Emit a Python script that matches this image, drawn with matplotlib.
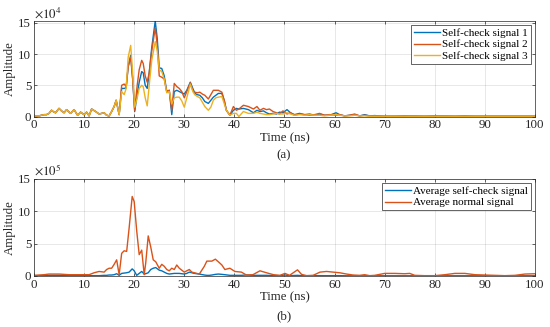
import matplotlib
matplotlib.use("Agg")
import matplotlib.pyplot as plt
import numpy as np

# MATLAB default line colours
C_BLUE = (0.0, 0.447, 0.741)
C_ORANGE = (0.850, 0.325, 0.098)
C_YELLOW = (0.929, 0.694, 0.125)

# %% Data, panel (a): self-check signals, amplitude in units of 1e4
t_top = [0, 0.5, 1, 1.5, 2, 2.5, 3, 3.5, 4, 4.3,
         5, 5.5, 6, 6.5, 7.3, 8, 8.7, 9.3, 10, 10.5,
         11, 11.5, 12.3, 13, 14, 14.5, 15, 15.5, 16, 16.4,
         17, 17.5, 18, 18.4, 18.8, 19.3, 19.7, 20.1, 20.6, 21,
         21.5, 21.8, 22.2, 22.6, 23, 23.5, 24.2, 24.6, 25, 25.5,
         26, 26.5, 27, 27.5, 28, 28.5, 29, 29.5, 30, 30.5,
         31.2, 31.7, 32.1, 32.6, 33.1, 33.6, 34.1, 34.8, 35.3, 35.8,
         36.3, 36.8, 37.5, 38, 38.4, 39.1, 39.8, 40.4, 40.9, 41.8,
         42.8, 43.8, 44.5, 45.1, 45.8, 46.4, 47, 47.7, 48.4, 49,
         49.7, 50.5, 51.2, 52, 53, 54, 55, 56, 57, 58,
         59, 60.3, 61, 62, 63, 64, 65, 66, 67, 68,
         70, 72, 74, 76, 78, 80, 82, 84, 86, 88,
         90, 92, 94, 96, 98, 100]

sig1 = [0.1, 0.1, 0.1, 0.2, 0.3, 0.3, 0.5, 1.0, 0.7, 0.6,
        1.3, 0.9, 0.6, 1.1, 0.5, 1.1, 0.2, 0.7, 0.3, 0.7,
        0.1, 1.2, 0.8, 0.4, 0.6, 0.2, 0.1, 0.8, 1.6, 2.6,
        0.3, 4.5, 4.5, 4.6, 8.0, 9.8, 6.0, 0.8, 3.5, 5.5,
        7.2, 7.0, 5.0, 4.5, 7.0, 11.0, 15.3, 12.5, 7.8, 7.7,
        6.5, 4.0, 4.2, 0.3, 4.0, 4.2, 4.0, 3.8, 3.6, 4.2,
        5.5, 4.5, 3.7, 3.5, 3.4, 3.0, 2.4, 2.1, 2.6, 3.1,
        3.4, 3.7, 3.7, 2.5, 1.0, 0.2, 1.0, 1.3, 1.2, 1.3,
        1.1, 0.6, 1.0, 0.8, 0.9, 0.6, 0.4, 0.5, 0.4, 0.7,
        0.6, 1.1, 0.6, 0.3, 0.5, 0.3, 0.4, 0.2, 0.4, 0.2,
        0.2, 0.6, 0.3, 0.1, 0.2, 0.3, 0.1, 0.3, 0.1, 0.15,
        0.05, 0.05, 0.1, 0.05, 0.05, 0.1, 0.05, 0.05, 0.1, 0.05,
        0.05, 0.05, 0.05, 0.05, 0.05, 0.05]

sig2 = [0.1, 0.1, 0.1, 0.2, 0.3, 0.3, 0.5, 1.0, 0.7, 0.6,
        1.3, 0.9, 0.6, 1.1, 0.5, 1.1, 0.2, 0.7, 0.3, 0.7,
        0.1, 1.2, 0.8, 0.4, 0.6, 0.2, 0.1, 0.8, 1.6, 2.6,
        0.3, 5.0, 5.2, 4.8, 8.0, 9.5, 6.0, 1.0, 5.0, 7.5,
        9.0, 8.5, 6.5, 5.5, 7.0, 10.5, 14.2, 11.5, 6.5, 6.3,
        6.0, 4.0, 4.2, 1.0, 5.3, 4.8, 4.5, 4.0, 3.0, 4.0,
        5.4, 4.2, 3.9, 3.8, 3.9, 3.6, 3.4, 2.8, 3.5, 4.2,
        4.2, 4.2, 3.9, 2.5, 1.0, 0.2, 1.6, 1.0, 1.2, 1.8,
        1.6, 1.2, 1.6, 1.0, 1.3, 1.1, 1.2, 0.8, 0.6, 0.4,
        0.9, 0.4, 0.6, 0.2, 0.4, 0.3, 0.2, 0.3, 0.5, 0.2,
        0.3, 0.2, 0.3, 0.1, 0.2, 0.4, 0.1, 0.2, 0.1, 0.1,
        0.05, 0.05, 0.05, 0.1, 0.05, 0.05, 0.1, 0.05, 0.05, 0.05,
        0.05, 0.05, 0.05, 0.05, 0.05, 0.05]

sig3 = [0.1, 0.1, 0.1, 0.2, 0.3, 0.3, 0.5, 1.0, 0.7, 0.6,
        1.3, 0.9, 0.6, 1.1, 0.5, 1.1, 0.2, 0.7, 0.3, 0.7,
        0.1, 1.2, 0.8, 0.4, 0.6, 0.2, 0.1, 0.8, 1.6, 2.6,
        0.3, 4.0, 3.5, 4.5, 9.5, 11.4, 7.0, 1.5, 3.0, 4.5,
        5.0, 4.8, 3.0, 1.7, 5.0, 9.0, 12.0, 10.5, 7.5, 7.2,
        6.0, 3.8, 4.0, 2.0, 3.0, 3.1, 3.1, 2.5, 1.5, 3.0,
        5.2, 4.0, 3.5, 3.2, 3.0, 2.3, 1.6, 1.0, 1.5, 2.6,
        3.0, 3.1, 3.2, 2.0, 1.0, 0.2, 0.5, 0.5, 0.0, 0.8,
        0.5, 0.5, 0.7, 0.5, 0.4, 0.3, 0.3, 0.4, 0.5, 0.4,
        0.4, 0.6, 0.4, 0.2, 0.3, 0.2, 0.3, 0.2, 0.2, 0.1,
        0.2, 0.3, 0.2, 0.1, 0.1, 0.2, 0.1, 0.1, 0.05, 0.05,
        0.05, 0.05, 0.05, 0.05, 0.05, 0.05, 0.05, 0.05, 0.05, 0.05,
        0.05, 0.05, 0.05, 0.05, 0.05, 0.05]

# %% Data, panel (b): averages, amplitude in units of 1e5
t_bot = [0, 2, 3, 5, 7, 9, 10, 11, 12, 13,
         14, 14.5, 15, 15.5, 16, 16.5, 17, 17.5, 18, 18.5,
         19, 19.6, 20, 20.5, 21, 21.5, 22, 22.3, 22.8, 23.3,
         23.8, 24.3, 25, 25.5, 26, 26.5, 27, 27.5, 28, 28.5,
         29, 30, 30.5, 31, 31.5, 32, 33, 34, 34.5, 35,
         35.5, 36.2, 36.8, 37.5, 38.1, 39.1, 40.1, 41.4, 42.4, 43.7,
         45.1, 46.4, 47.8, 49.1, 50.1, 51, 52.6, 53.4, 54.4, 55.7,
         57.1, 58.4, 59.7, 61, 62.4, 63.7, 65, 66, 67, 68,
         70, 72, 74, 75, 76, 78, 80, 82, 84, 86,
         88, 90, 92, 94, 96, 98, 100]

avg_self = [0.05, 0.05, 0.1, 0.1, 0.1, 0.05, 0.05, 0.05, 0.05, 0.05,
            0.1, 0.1, 0.15, 0.15, 0.2, 0.35, 0.1, 0.4, 0.45, 0.5,
            0.6, 1.1, 0.8, 0.1, 0.4, 0.7, 0.3, 0.35, 0.5, 1.0,
            1.2, 1.3, 0.9, 0.8, 0.6, 0.4, 0.3, 0.35, 0.4, 0.4,
            0.4, 0.3, 0.4, 0.6, 0.5, 0.4, 0.3, 0.15, 0.1, 0.1,
            0.15, 0.25, 0.3, 0.25, 0.2, 0.1, 0.1, 0.1, 0.15, 0.1,
            0.1, 0.1, 0.05, 0.05, 0.15, 0.05, 0.1, 0.05, 0.05, 0.05,
            0.05, 0.05, 0.05, 0.05, 0.03, 0.03, 0.03, 0.03, 0.03, 0.03,
            0.03, 0.03, 0.03, 0.03, 0.03, 0.03, 0.03, 0.03, 0.03, 0.03,
            0.03, 0.03, 0.03, 0.03, 0.03, 0.03, 0.03]

avg_normal = [0.1, 0.2, 0.3, 0.3, 0.2, 0.2, 0.2, 0.2, 0.5, 0.7,
              0.6, 1.0, 1.2, 1.2, 1.8, 2.5, 0.2, 3.5, 3.9, 3.8,
              7.5, 12.3, 11.5, 7.0, 3.3, 4.0, 0.2, 2.0, 6.2, 4.5,
              2.5, 2.2, 1.2, 1.8, 1.5, 1.0, 0.8, 1.2, 1.0, 1.7,
              1.2, 0.6, 0.8, 1.0, 0.6, 0.5, 0.3, 1.5, 2.3, 2.3,
              2.3, 2.6, 2.2, 1.7, 1.0, 1.2, 0.7, 0.6, 0.15, 0.2,
              0.8, 0.5, 0.2, 0.1, 0.4, 0.1, 0.95, 0.25, 0.05, 0.1,
              0.6, 0.7, 0.6, 0.5, 0.3, 0.15, 0.1, 0.2, 0.05, 0.1,
              0.4, 0.4, 0.35, 0.4, 0.1, 0.05, 0.05, 0.2, 0.4, 0.4,
              0.2, 0.15, 0.1, 0.05, 0.1, 0.3, 0.35]

labels_top = ['Self-check signal 1', 'Self-check signal 2', 'Self-check signal 3']
labels_bot = ['Average self-check signal', 'Average normal signal']
x_ticks = [0, 10, 20, 30, 40, 50, 60, 70, 80, 90, 100]
y_ticks = [0, 5, 10, 15]

# %% Style
plt.rcParams['font.family'] = ['Liberation Serif', 'DejaVu Serif']
plt.rcParams['mathtext.fontset'] = 'stix'
FS = 9.3   # axis text
FS_LEG = 8  # legend text


def style_axes(ax, ymax):
    ax.set_xlim(0, 100)
    ax.set_ylim(0, ymax)
    ax.set_xticks(x_ticks)
    ax.set_yticks(y_ticks)
    ax.grid(True, color='0.15', alpha=0.15, linewidth=0.5)
    ax.set_axisbelow(True)
    ax.tick_params(direction='in', top=True, right=True, length=2.5,
                   width=0.5, colors='0.15', labelsize=FS, pad=2)
    for s in ax.spines.values():
        s.set_color('0.15')
        s.set_linewidth(0.5)
    ax.set_xlabel('Time (ns)', fontsize=FS, labelpad=0.5, color='0.15')
    ax.set_ylabel('Amplitude', fontsize=FS, labelpad=2, color='0.15')


fig = plt.figure(figsize=(5.5, 3.27), dpi=100)
ax1 = fig.add_axes([0.0618, 0.6437, 0.9109, 0.2920])
ax2 = fig.add_axes([0.0618, 0.156, 0.9109, 0.2966])

# panel (a)
for y, c, lab in zip([sig1, sig2, sig3], [C_BLUE, C_ORANGE, C_YELLOW], labels_top):
    ax1.plot(t_top, y, color=c, linewidth=1.0, label=lab)
style_axes(ax1, 15.3)
ax1.text(0.0, 1.0, r'$\times10^{4}$', transform=ax1.transAxes,
         fontsize=FS, color='0.15', va='bottom', ha='left')
leg1 = ax1.legend(loc='upper right', fontsize=FS_LEG, frameon=True, fancybox=False,
                  framealpha=1, edgecolor='0.15', handlelength=2.3,
                  handletextpad=0.2, labelspacing=0.15, borderpad=0.25,
                  borderaxespad=0.4)
leg1.get_frame().set_linewidth(0.5)

# panel (b)
ax2.plot(t_bot, avg_self, color=C_BLUE, linewidth=1.0, label=labels_bot[0])
ax2.plot(t_bot, avg_normal, color=C_ORANGE, linewidth=1.0, label=labels_bot[1])
style_axes(ax2, 15)
ax2.text(0.0, 1.0, r'$\times10^{5}$', transform=ax2.transAxes,
         fontsize=FS, color='0.15', va='bottom', ha='left')
leg2 = ax2.legend(loc='upper right', fontsize=FS_LEG, frameon=True, fancybox=False,
                  framealpha=1, edgecolor='0.15', handlelength=2.3,
                  handletextpad=0.2, labelspacing=0.15, borderpad=0.25,
                  borderaxespad=0.4)
leg2.get_frame().set_linewidth(0.5)

fig.text(0.5165, 1 - 155 / 327, '(a)', ha='center', va='center', fontsize=FS, color='0.15')
fig.text(0.5165, 1 - 316.7 / 327, '(b)', ha='center', va='center', fontsize=FS, color='0.15')

fig.savefig('out.png', dpi=100)
